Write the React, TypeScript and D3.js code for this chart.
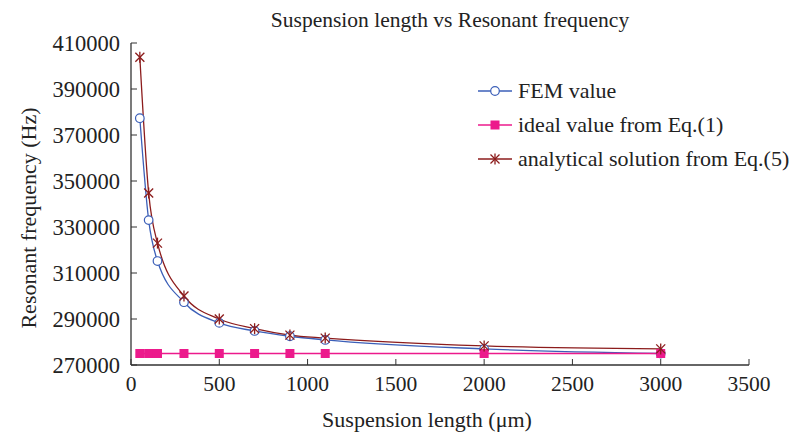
import React from "react";
import * as d3 from "d3";

const lengths = [50, 100, 150, 300, 500, 700, 900, 1100, 2000, 3000];
const femValues = [377300, 333000, 315200, 297300, 288300, 284800, 282500, 280900, 277000, 275000];
const idealValues = [275000, 275000, 275000, 275000, 275000, 275000, 275000, 275000, 275000, 275000];
const analyticalValues = [403800, 344800, 323000, 300000, 290000, 285800, 283000, 281700, 278300, 277000];
const xTicks = [0, 500, 1000, 1500, 2000, 2500, 3000, 3500];
const yTicks = [270000, 290000, 310000, 330000, 350000, 370000, 390000, 410000];
const seriesNames = ["FEM value", "ideal value from Eq.(1)", "analytical solution from Eq.(5)"];

const W = 798, H = 437;
const FONT = "'Liberation Serif', 'Times New Roman', serif";
const BLUE = "#3b5fb8";
const PINK = "#ec1a8c";
const RED = "#8c1c1c";
const TXT = "#222";

function Marker({ kind, x, y }: { kind: number; x: number; y: number }) {
  if (kind === 0) return <circle cx={x} cy={y} r={4.3} fill="#fff" stroke={BLUE} strokeWidth={1.2} />;
  if (kind === 1) return <rect x={x - 4.5} y={y - 4.5} width={9} height={9} fill={PINK} />;
  const s = 4.5;
  return (
    <g stroke={RED} strokeWidth={1.3}>
      <line x1={x - s} y1={y - s} x2={x + s} y2={y + s} />
      <line x1={x - s} y1={y + s} x2={x + s} y2={y - s} />
      <line x1={x} y1={y - s - 1} x2={x} y2={y + s + 1} />
    </g>
  );
}

export default function App() {
  const x = d3.scaleLinear().domain([0, 3500]).range([131, 749]);
  const y = d3.scaleLinear().domain([270000, 410000]).range([365, 43]);
  const series = [femValues, idealValues, analyticalValues];
  const colors = [BLUE, PINK, RED];
  const line = d3
    .line<number>()
    .x((_, i) => x(lengths[i]))
    .y((v) => y(v))
    .curve(d3.curveMonotoneX);

  return (
    <svg width={W} height={H} style={{ position: "fixed", left: 0, top: 0, background: "#fff" }} fontFamily={FONT}>
      <rect width={W} height={H} fill="#fff" />
      <text x={450} y={27} textAnchor="middle" fontSize={21.5} fill={TXT}>Suspension length vs Resonant frequency</text>

      {/* axes */}
      <line x1={x(0)} y1={y(270000)} x2={x(3500)} y2={y(270000)} stroke="#333" strokeWidth={1.3} />
      <line x1={x(0)} y1={y(270000)} x2={x(0)} y2={y(410000)} stroke="#333" strokeWidth={1.3} />
      {xTicks.map((t) => (
        <g key={"x" + t}>
          <line x1={x(t)} x2={x(t)} y1={y(270000)} y2={y(270000) - 6} stroke="#333" strokeWidth={1} />
          <text x={x(t)} y={391} textAnchor="middle" fontSize={21.5} fill={TXT}>{t}</text>
        </g>
      ))}
      {yTicks.map((t) => (
        <g key={"y" + t}>
          <line x1={x(0)} x2={x(0) + 6} y1={y(t)} y2={y(t)} stroke="#333" strokeWidth={1} />
          <text x={120} y={y(t) + 8} textAnchor="end" fontSize={22.5} fill={TXT}>{t}</text>
        </g>
      ))}
      <text x={427} y={427} textAnchor="middle" fontSize={22} fill={TXT}>Suspension length (μm)</text>
      <text transform={`translate(36,218) rotate(-90)`} textAnchor="middle" fontSize={22} fill={TXT}>Resonant frequency (Hz)</text>

      {/* series */}
      {series.map((vals, k) => (
        <path key={"p" + k} d={line(vals) || ""} fill="none" stroke={colors[k]} strokeWidth={1.3} />
      ))}
      {series.map((vals, k) =>
        vals.map((v, i) => <Marker key={`m${k}-${i}`} kind={k} x={x(lengths[i])} y={y(v)} />)
      )}

      {/* legend */}
      {seriesNames.map((name, k) => {
        const ly = 91 + k * 34;
        return (
          <g key={"l" + k}>
            <line x1={478} x2={512} y1={ly} y2={ly} stroke={colors[k]} strokeWidth={1.3} />
            <Marker kind={k} x={495} y={ly} />
            <text x={518} y={ly + 7} fontSize={22} fill={TXT}>{name}</text>
          </g>
        );
      })}
    </svg>
  );
}
